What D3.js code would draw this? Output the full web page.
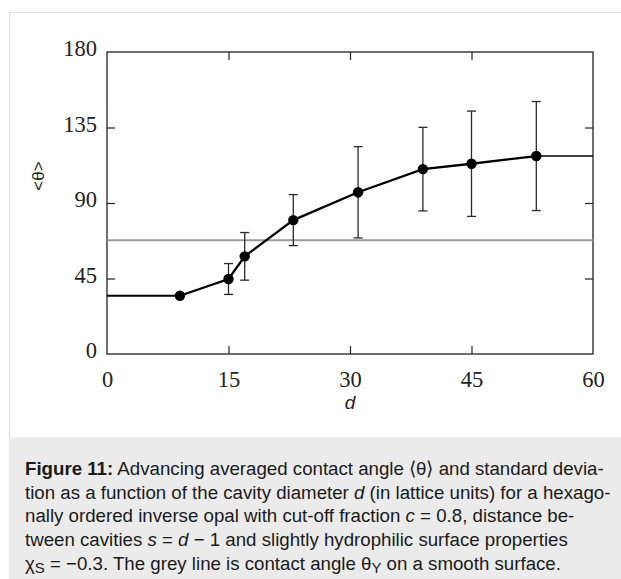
<!DOCTYPE html>
<html>
<head>
<meta charset="utf-8">
<script src="https://cdn.jsdelivr.net/npm/d3@7"></script>
<style>
  html, body { margin: 0; padding: 0; background: #fff; }
  svg { display: block; }
</style>
</head>
<body>
<script>
// Cavity diameter d (lattice units)
const diameters = [9, 15, 17, 23, 31, 39, 45, 53];
// Averaged advancing contact angle <θ> (degrees)
const meanAngle = [34.7, 44.7, 58.2, 79.8, 96.4, 110.2, 113.4, 118.0];
// Standard deviation of the angle (degrees); first point has no bar
const stdDev = [0, 9.2, 14.2, 15.2, 27.2, 24.9, 31.4, 32.5];
// Young contact angle on a smooth surface
const youngAngle = 67.8;

const xTicks = [0, 15, 30, 45, 60];
const yTicks = [0, 45, 90, 135, 180];

const W = 621, H = 579;
const svg = d3.select("body").append("svg").attr("width", W).attr("height", H);

// outer panel border and caption box
svg.append("path")
  .attr("d", `M9.5,${H} V12.5 H${W}`)
  .attr("fill", "none").attr("stroke", "#dcdcdc").attr("stroke-width", 1);
svg.append("rect")
  .attr("x", 9).attr("y", 437.5).attr("width", W - 9).attr("height", H - 437.5)
  .attr("fill", "#ebebeb");

const x = d3.scaleLinear().domain([0, 60]).range([107, 593]);
const y = d3.scaleLinear().domain([0, 180]).range([354, 52]);

const axisColor = "#222";
const serif = "'Liberation Serif', 'Times New Roman', serif";
const sans = "'Liberation Sans', Arial, sans-serif";

function styleAxis(g) {
  g.select(".domain").remove();
  g.selectAll(".tick line").attr("stroke", axisColor).attr("stroke-width", 1.2);
  g.selectAll(".tick text").attr("fill", axisColor)
    .style("font-family", serif).style("font-size", "22.5px");
}

// inward ticks on all four sides
const inner = xTicks.filter(v => v > 0 && v < 60);
const innerY = yTicks.filter(v => v > 0 && v < 180);

svg.append("g").attr("transform", `translate(0,${y(0)})`)
  .call(d3.axisBottom(x).tickValues(xTicks).tickSizeInner(-8).tickSizeOuter(0).tickPadding(17))
  .call(styleAxis)
  .call(g => g.selectAll(".tick line").filter(d => d === 0 || d === 60).remove());

svg.append("g").attr("transform", `translate(0,${y(180)})`)
  .call(d3.axisTop(x).tickValues(inner).tickSizeInner(-8).tickSizeOuter(0).tickFormat(""))
  .call(styleAxis);

svg.append("g").attr("transform", `translate(${x(0)},0)`)
  .call(d3.axisLeft(y).tickValues(yTicks).tickSizeInner(-8).tickSizeOuter(0).tickPadding(10))
  .call(styleAxis)
  .call(g => g.selectAll(".tick text").attr("dy", 3.5))
  .call(g => g.selectAll(".tick line").filter(d => d === 0 || d === 180).remove());

svg.append("g").attr("transform", `translate(${x(60)},0)`)
  .call(d3.axisRight(y).tickValues(innerY).tickSizeInner(-8).tickSizeOuter(0).tickFormat(""))
  .call(styleAxis);

// plot frame
svg.append("rect")
  .attr("x", x(0)).attr("y", y(180))
  .attr("width", x(60) - x(0)).attr("height", y(0) - y(180))
  .attr("fill", "none").attr("stroke", axisColor).attr("stroke-width", 1.3);

// grey reference line: smooth-surface contact angle
svg.append("line")
  .attr("x1", x(0)).attr("x2", x(60))
  .attr("y1", y(youngAngle)).attr("y2", y(youngAngle))
  .attr("stroke", "#9a9a9a").attr("stroke-width", 2.2);

const pts = diameters.map((d, i) => ({ d, a: meanAngle[i], s: stdDev[i] }));

// error bars
const eb = svg.append("g").attr("stroke", "#2a2a2a").attr("stroke-width", 1.3).attr("fill", "none");
pts.filter(p => p.s > 0).forEach(p => {
  const cx = x(p.d), y1 = y(p.a + p.s), y2 = y(p.a - p.s);
  eb.append("line").attr("x1", cx).attr("x2", cx).attr("y1", y1).attr("y2", y2);
  eb.append("line").attr("x1", cx - 4.5).attr("x2", cx + 4.5).attr("y1", y1).attr("y2", y1);
  eb.append("line").attr("x1", cx - 4.5).attr("x2", cx + 4.5).attr("y1", y2).attr("y2", y2);
});

// flat continuations to the axis limits
const first = pts[0], last = pts[pts.length - 1];
svg.append("line")
  .attr("x1", x(0)).attr("x2", x(first.d)).attr("y1", y(first.a)).attr("y2", y(first.a))
  .attr("stroke", "#000").attr("stroke-width", 2);
svg.append("line")
  .attr("x1", x(last.d)).attr("x2", x(60)).attr("y1", y(last.a)).attr("y2", y(last.a))
  .attr("stroke", "#000").attr("stroke-width", 1.5);

// connecting line and markers
svg.append("path")
  .datum(pts)
  .attr("d", d3.line().x(p => x(p.d)).y(p => y(p.a)))
  .attr("fill", "none").attr("stroke", "#000").attr("stroke-width", 2.3);
svg.append("g").selectAll("circle").data(pts).join("circle")
  .attr("cx", p => x(p.d)).attr("cy", p => y(p.a)).attr("r", 5.2)
  .attr("fill", "#000");

// axis titles
svg.append("text")
  .attr("transform", "translate(44,176) rotate(-90)")
  .attr("text-anchor", "middle")
  .style("font-family", sans).style("font-size", "17px")
  .attr("fill", axisColor)
  .text("<θ>");
svg.append("text")
  .attr("x", 350).attr("y", 409)
  .attr("text-anchor", "middle")
  .style("font-family", sans).style("font-size", "19px")
  .style("font-style", "italic")
  .attr("fill", axisColor)
  .text("d");

// caption
const captionLines = [
  [["Figure 11:", "b"], [" Advancing averaged contact angle ⟨θ⟩ and standard devia-", ""]],
  [["tion as a function of the cavity diameter ", ""], ["d", "i"], [" (in lattice units) for a hexago-", ""]],
  [["nally ordered inverse opal with cut-off fraction ", ""], ["c", "i"], [" = 0.8, distance be-", ""]],
  [["tween cavities ", ""], ["s", "i"], [" = ", ""], ["d", "i"], [" − 1 and slightly hydrophilic surface properties", ""]],
  [["χ", ""], ["S", "sub"], [" = −0.3. The grey line is contact angle θ", ""], ["Y", "sub"], [" on a smooth surface.", ""]]
];
const capX = 25, capRight = 604, capTop = 475, capLead = 23.7;
const cap = svg.append("g").style("font-family", sans).attr("fill", "#1a1a1a");

function drawCaption(size) {
  cap.selectAll("*").remove();
  captionLines.forEach((parts, i) => {
    const t = cap.append("text").attr("x", capX).attr("y", capTop + i * capLead)
      .style("font-size", size + "px");
    let low = false;
    parts.forEach(([str, kind]) => {
      const s = t.append("tspan").text(str);
      if (kind === "b") s.style("font-weight", "bold");
      if (kind === "i") s.style("font-style", "italic");
      if (kind === "sub") {
        s.style("font-size", (size * 0.8) + "px");
        if (!low) { s.attr("dy", 3); low = true; }
      } else if (low) {
        s.attr("dy", -3); low = false;
      }
    });
  });
}

// size the caption so its first line fills the box width
drawCaption(16);
const w16 = cap.select("text").node().getComputedTextLength();
drawCaption(16 * (capRight - capX) / w16);
</script>
</body>
</html>
